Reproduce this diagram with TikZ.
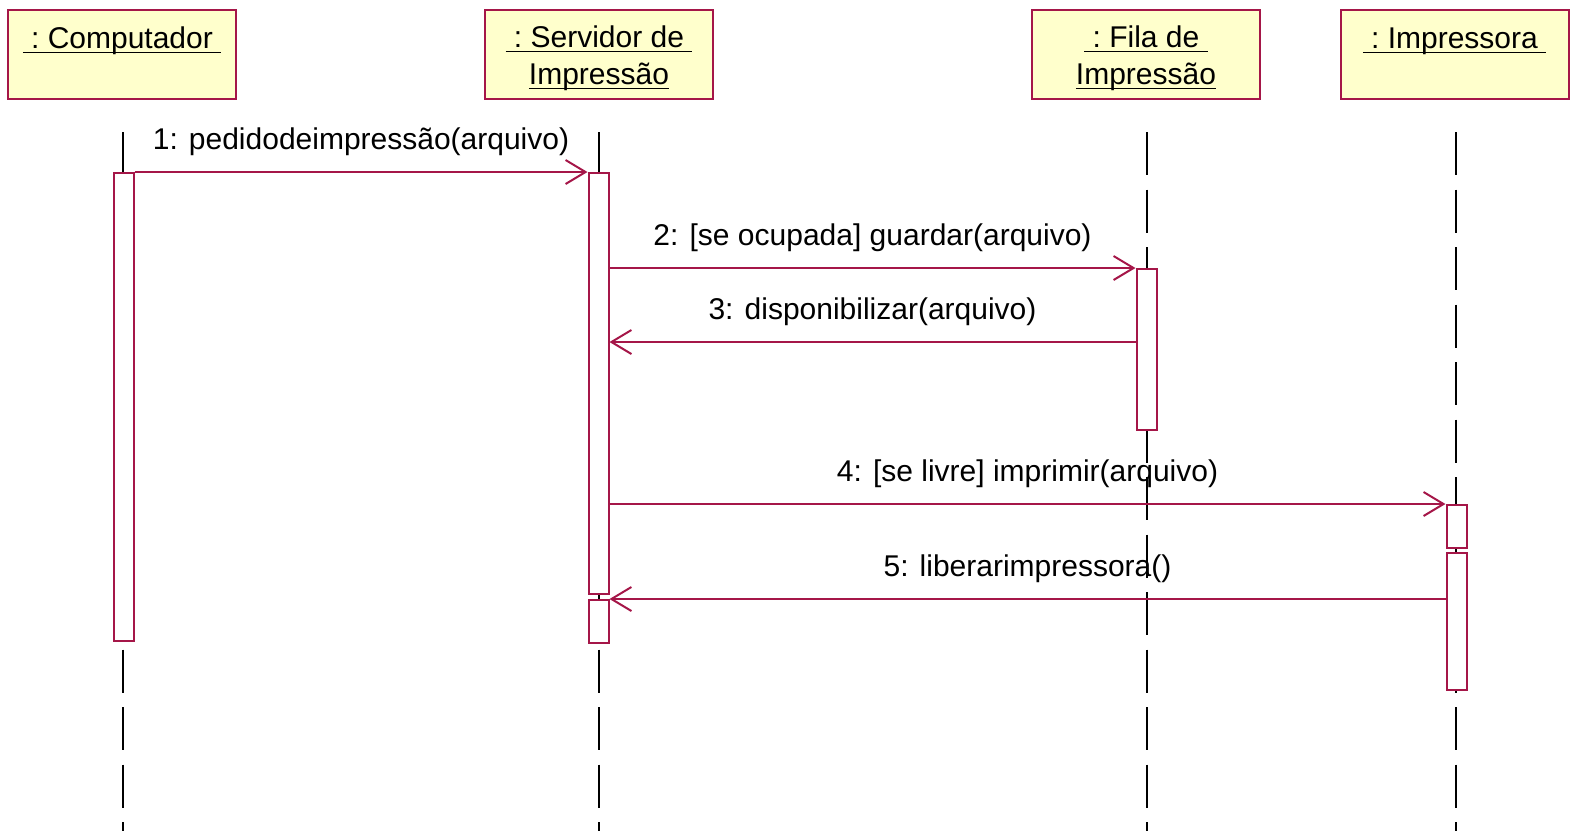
\documentclass[tikz,border=0pt]{standalone}
\usepackage{fontspec}
\setmainfont{Liberation Sans}
\usetikzlibrary{arrows.meta}
\definecolor{umlred}{RGB}{165,22,72}
\definecolor{umlfill}{RGB}{255,255,204}
\newcommand{\ulname}[1]{\leavevmode\setbox0\hbox{#1}\rlap{\rule[-2.5pt]{\wd0}{0.7pt}}\box0}
\newcommand{\actbox}[4]{\node[act, minimum height={(#4-#3)*0.5pt}] (#1) at (#2, {(#3+#4)/2}) {};}
\tikzset{
  objbox/.style={draw=umlred, fill=umlfill, line width=1pt, minimum width=114pt, minimum height=44.5pt, inner sep=0pt},
  objtext/.style={align=center, inner sep=0pt, anchor=base},
  act/.style={draw=umlred, fill=white, line width=1pt, minimum width=10pt, inner sep=0pt},
  life/.style={line width=0.9pt, dash pattern=on 21.5pt off 7.25pt},
  msgarrow/.style={draw=umlred, line width=1pt, -{Straight Barb[length=10pt,width=12pt]}},
  msglabel/.style={anchor=base, inner sep=0pt, yshift=11.5pt}
}

\begin{document}
\begin{tikzpicture}[x=0.5pt, y=-0.5pt, font=\fontsize{15}{18.5}\selectfont]
        \useasboundingbox (0,0) rectangle (1570,831);
        \coordinate (bot) at (0,831);
        \coordinate (y3) at (0,342);
        %objects
        \node[objbox] (comp) at (122,54.5) {};
        \node[objbox] (serv) at (599,54.5) {};
        \node[objbox] (fila) at (1146,54.5) {};
        \node[objbox] (impr) at (1454.5,54.5) {};
        % base = last line
        \node[objtext] (compT) at (122,48) {\ulname{\ :\ Computador\ }};
        \node[objtext] (servT) at (599,84) {\ulname{\ :\ Servidor de\ }\\\ulname{Impressão}};
        \node[objtext] (filaT) at (1146,84) {\ulname{\ :\ Fila de\ }\\\ulname{Impressão}};
        \node[objtext] (imprT) at (1454.5,48) {\ulname{\ :\ Impressora\ }};
        %lifelines
        \foreach \x in {123,599,1147,1456}
          \draw[life] (\x,132) -- (\x,831);
        %activations
        \actbox{compA}{123.5}{173}{641}
        \actbox{servA}{598.5}{173}{594}
        \actbox{servB}{598.5}{600}{643}
        \actbox{filaA}{1146.5}{269}{430}
        \actbox{imprA}{1456.5}{505}{548}
        \actbox{imprB}{1456.5}{553}{690}
        %messages
        \draw[msgarrow] (compA.north east) -- (servA.north west)
          node[msglabel, midway] (m1) {1: pedidodeimpressão(arquivo)};
        \draw[msgarrow] (servA.east |- filaA.north) -- (filaA.north west)
          node[msglabel, midway] (m2) {2: [se ocupada] guardar(arquivo)};
        \draw[msgarrow] (filaA.west |- y3) -- (servA.east |- y3)
          node[msglabel, midway] (m3) {3: disponibilizar(arquivo)};
        \draw[msgarrow] (servA.east |- imprA.north) -- (imprA.north west)
          node[msglabel, midway] (m4) {4: [se livre] imprimir(arquivo)};
        \draw[msgarrow] (imprB.west |- servB.north) -- (servB.north east)
          node[msglabel, midway] (m5) {5: liberarimpressora()};
\end{tikzpicture}
\end{document}
